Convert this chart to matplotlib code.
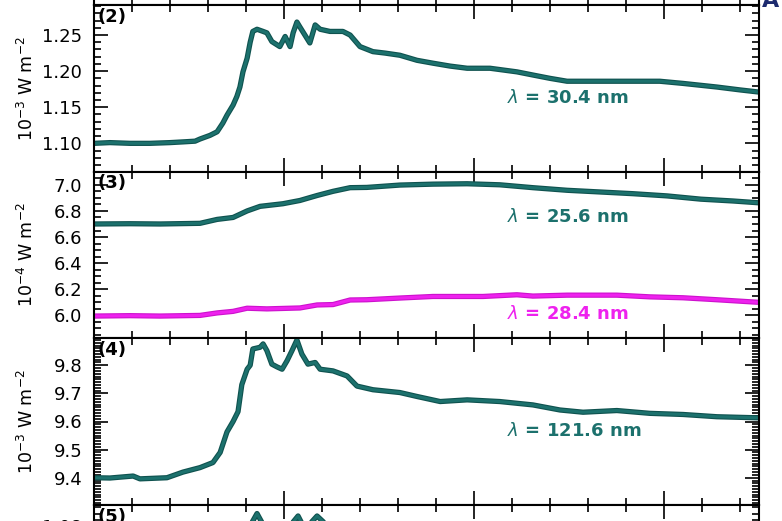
import matplotlib.pyplot as plt
import matplotlib.patheffects as pe
from matplotlib.ticker import MultipleLocator, FormatStrFormatter

# panel (2): lambda = 30.4 nm, 10^-3 W m^-2
x_304 = [0.00, 0.42, 0.95, 1.47, 2.00, 2.34, 2.66, 2.79, 3.05, 3.24, 3.39, 3.50,
         3.66, 3.76, 3.84, 3.92, 4.03, 4.11, 4.18, 4.29, 4.45, 4.55, 4.68, 4.89,
         5.03, 5.16, 5.24, 5.34, 5.42, 5.55, 5.68, 5.82, 5.95, 6.21, 6.55, 6.74,
         7.00, 7.34, 7.66, 8.05, 8.50, 8.92, 9.37, 9.82, 10.42, 11.13, 11.61,
         12.00, 12.45, 13.32, 14.18, 14.89, 15.50, 16.39, 17.00, 17.50]
y_304 = [1.100, 1.101, 1.100, 1.100, 1.101, 1.102, 1.103, 1.106, 1.111, 1.116,
         1.128, 1.139, 1.153, 1.165, 1.178, 1.199, 1.218, 1.240, 1.255, 1.258,
         1.255, 1.253, 1.241, 1.234, 1.248, 1.234, 1.253, 1.268, 1.261, 1.250,
         1.239, 1.264, 1.258, 1.255, 1.255, 1.250, 1.234, 1.227, 1.225, 1.222,
         1.215, 1.211, 1.207, 1.204, 1.204, 1.199, 1.194, 1.190, 1.186, 1.186,
         1.186, 1.186, 1.183, 1.178, 1.174, 1.171]

# panel (3): lambda = 25.6 nm and 28.4 nm, 10^-4 W m^-2
x_256 = [0.00, 0.95, 1.74, 2.79, 3.24, 3.66, 4.03, 4.37, 4.97, 5.42, 5.87, 6.29,
         6.74, 7.18, 8.05, 8.92, 9.82, 10.68, 11.55, 12.45, 13.32, 14.18, 15.08,
         15.97, 16.82, 17.50]
y_256 = [6.700, 6.702, 6.700, 6.705, 6.735, 6.750, 6.800, 6.835, 6.855, 6.880,
         6.918, 6.950, 6.978, 6.980, 6.998, 7.005, 7.008, 7.000, 6.978, 6.958,
         6.945, 6.932, 6.915, 6.890, 6.876, 6.862]

x_284 = [0.00, 0.95, 1.74, 2.79, 3.24, 3.66, 4.03, 4.55, 5.42, 5.87, 6.29, 6.74,
         7.18, 8.05, 8.92, 10.24, 11.13, 11.55, 12.45, 13.76, 14.63, 15.50,
         16.39, 17.50]
y_284 = [5.995, 5.998, 5.995, 6.000, 6.019, 6.031, 6.055, 6.050, 6.057, 6.080,
         6.083, 6.118, 6.120, 6.133, 6.145, 6.145, 6.158, 6.148, 6.155, 6.155,
         6.142, 6.135, 6.120, 6.100]

# panel (4): lambda = 121.6 nm, 10^-3 W m^-2
x_1216 = [0.00, 0.42, 1.03, 1.21, 1.92, 2.34, 2.79, 3.13, 3.32, 3.50, 3.66, 3.79,
          3.89, 4.03, 4.11, 4.18, 4.37, 4.45, 4.55, 4.68, 4.82, 4.95, 5.08, 5.21,
          5.34, 5.47, 5.63, 5.82, 5.95, 6.29, 6.66, 6.92, 7.34, 8.05, 8.50, 9.11,
          9.82, 10.68, 11.55, 12.26, 12.87, 13.76, 14.63, 15.50, 16.39, 17.50]
y_1216 = [9.400, 9.399, 9.406, 9.396, 9.400, 9.420, 9.436, 9.454, 9.490, 9.563,
          9.600, 9.635, 9.731, 9.786, 9.800, 9.858, 9.864, 9.876, 9.852, 9.804,
          9.794, 9.786, 9.816, 9.852, 9.890, 9.840, 9.804, 9.810, 9.786, 9.780,
          9.762, 9.726, 9.713, 9.703, 9.689, 9.671, 9.677, 9.671, 9.659, 9.641,
          9.633, 9.639, 9.629, 9.625, 9.617, 9.613]

# panel (5): only the tops of the peaks are inside the crop
x_p5 = [0.00, 2.79, 3.58, 4.11, 4.29, 4.50, 5.03, 5.37, 5.55, 5.87, 6.21, 8.05, 17.50]
y_p5 = [1.000, 1.010, 1.050, 1.080, 1.090, 1.078, 1.075, 1.088, 1.077, 1.088,
        1.078, 1.060, 1.040]

teal = '#1c716d'
teal_edge = '#0f524f'
magenta = '#ee22ee'
magenta_edge = '#cc12cc'

W, H = 782, 521
fig = plt.figure(figsize=(W / 100, H / 100), dpi=100)


def add_panel(top, bottom):
    return fig.add_axes([94 / W, 1 - bottom / H, (759 - 94) / W, (bottom - top) / H])


ax1 = add_panel(-162, 5)
ax2 = add_panel(5, 172)
ax3 = add_panel(172, 338)
ax4 = add_panel(338, 505)
ax5 = add_panel(505, 672)

for ax in [ax1, ax2, ax3, ax4, ax5]:
    ax.set_xlim(0, 17.5)
    ax.xaxis.set_major_locator(MultipleLocator(5))
    ax.xaxis.set_minor_locator(MultipleLocator(1))
    ax.tick_params(which='both', direction='in', top=True, right=True,
                   labelbottom=False, labelsize=13, width=1.2, pad=8.5)
    ax.tick_params(which='major', length=10)
    ax.tick_params(which='minor', length=5)
    for s in ax.spines.values():
        s.set_linewidth(1.5)


def trace(ax, x, y, c, edge):
    ax.plot(x, y, color=c, lw=2.2, solid_capstyle='round',
            path_effects=[pe.Stroke(linewidth=3.8, foreground=edge), pe.Normal()])


def panel_label(ax, s):
    ax.text(0.005, 0.985, s, transform=ax.transAxes, fontsize=13,
            fontweight='bold', va='top', ha='left')


ylab = {'fontsize': 12.5}

# (1) - only its bottom edge is in the crop
ax1.set_ylim(0, 1)
ax1.set_yticks([0.5])
ax1.tick_params(labelleft=False)

# (2)
trace(ax2, x_304, y_304, teal, teal_edge)
ax2.set_ylim(1.0603, 1.2916)
ax2.yaxis.set_major_locator(MultipleLocator(0.05))
ax2.yaxis.set_minor_locator(MultipleLocator(0.01))
ax2.yaxis.set_major_formatter(FormatStrFormatter('%.2f'))
ax2.set_ylabel('10$^{-3}$ W m$^{-2}$', **ylab)
panel_label(ax2, '(2)')
ax2.text(0.713, 0.443, r'$\lambda$ = 30.4 nm', transform=ax2.transAxes,
         fontsize=13, fontweight='bold', color=teal, ha='center', va='center')

# (3)
trace(ax3, x_256, y_256, teal, teal_edge)
trace(ax3, x_284, y_284, magenta, magenta_edge)
ax3.set_ylim(5.827, 7.098)
ax3.yaxis.set_major_locator(MultipleLocator(0.2))
ax3.yaxis.set_minor_locator(MultipleLocator(0.05))
ax3.yaxis.set_major_formatter(FormatStrFormatter('%.1f'))
ax3.set_ylabel('10$^{-4}$ W m$^{-2}$', **ylab)
panel_label(ax3, '(3)')
ax3.text(0.713, 0.731, r'$\lambda$ = 25.6 nm', transform=ax3.transAxes,
         fontsize=13, fontweight='bold', color=teal, ha='center', va='center')
ax3.text(0.713, 0.145, r'$\lambda$ = 28.4 nm', transform=ax3.transAxes,
         fontsize=13, fontweight='bold', color=magenta, ha='center', va='center')

# (4)
trace(ax4, x_1216, y_1216, teal, teal_edge)
ax4.set_ylim(9.303, 9.897)
ax4.yaxis.set_major_locator(MultipleLocator(0.1))
ax4.yaxis.set_minor_locator(MultipleLocator(0.01))
ax4.yaxis.set_major_formatter(FormatStrFormatter('%.1f'))
ax4.set_ylabel('10$^{-3}$ W m$^{-2}$', **ylab)
panel_label(ax4, '(4)')
ax4.text(0.722, 0.443, r'$\lambda$ = 121.6 nm', transform=ax4.transAxes,
         fontsize=13, fontweight='bold', color=teal, ha='center', va='center')

# (5)
trace(ax5, x_p5, y_p5, teal, teal_edge)
ax5.set_ylim(0.96, 1.097)
ax5.yaxis.set_major_locator(MultipleLocator(0.02))
ax5.yaxis.set_minor_locator(MultipleLocator(0.005))
ax5.yaxis.set_major_formatter(FormatStrFormatter('%.2f'))
panel_label(ax5, '(5)')

for ax in [ax2, ax3, ax4]:
    ax.yaxis.set_label_coords(-0.085, 0.5)

fig.text(762 / W, 1 - 7 / H, 'A', fontsize=16, fontweight='bold',
         color='#1c2a6e', ha='left', va='baseline')

fig.savefig('out.png', dpi=100)
